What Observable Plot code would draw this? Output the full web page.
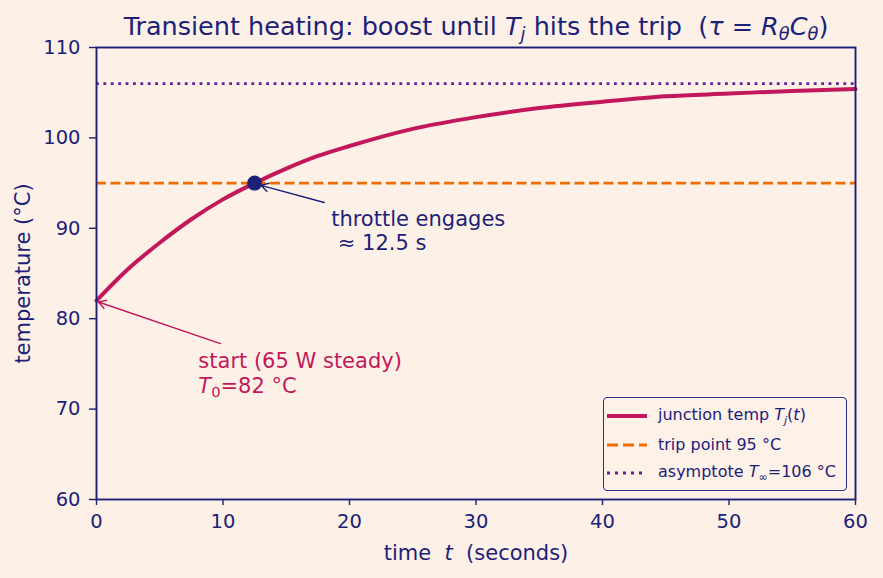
<!DOCTYPE html>
<html><head><meta charset="utf-8">
<script src="https://cdn.jsdelivr.net/npm/d3@7"></script>
<script src="https://cdn.jsdelivr.net/npm/@observablehq/plot@0.6"></script>
<style>
html,body{margin:0;padding:0;background:#fdf1e7;}
#wrap{position:relative;width:883px;height:578px;font-family:"DejaVu Sans",sans-serif;}
svg text{white-space:pre;}
#legend{position:absolute;left:603px;top:397px;width:244px;height:94px;border:1.5px solid #2a2f85;border-radius:4px;background:rgba(253,241,231,0.85);box-sizing:border-box;color:#1c2178;font-size:16px;}
#legend .row{position:absolute;left:3px;height:22px;display:flex;align-items:center;white-space:nowrap;}
#legend svg{margin-right:11px;}
#legend sub{font-size:70%;}
</style></head>
<body><div id="wrap"><div id="legend"></div></div>
<script>
// data
const timeS = [0, 2.5, 5, 7.5, 10, 12.5, 15, 17.5, 20, 25, 30, 35, 40, 45, 50, 55, 60];
const tempC = [82, 85.5, 88.4, 91.0, 93.2, 95.0, 96.6, 98.0, 99.1, 101.0, 102.3, 103.3, 104.0, 104.6, 104.9, 105.2, 105.4];
const tripC = [95];
const asymC = [106];
const throttleT = [12.5];
const throttleTemp = [95];
const xTicks = [0, 10, 20, 30, 40, 50, 60];
const yTicks = [60, 70, 80, 90, 100, 110];
// annotation anchors (data units)
const annThrottle = {text: "throttle engages\n ≈ 12.5 s", tx: 18.55, ty: 92.2, ax1: 18.0, ay1: 92.85, ax2: 13.0, ay2: 94.75};
const annStart = {text: "start (65 W steady)\n*T*_{0}=82 °C", tx: 8.05, ty: 76.4, ax1: 9.8, ay1: 77.25, ax2: 0.15, ay2: 81.85};
const titleText = "Transient heating: boost until *T*_{*j*} hits the trip  (*τ* = *R*_{*θ*}*C*_{*θ*})";
const xLabel = "time  *t*  (seconds)";
const yLabel = "temperature (°C)";

const navy = "#1c2178", crimson = "#c2185b", orange = "#ef6c00", purple = "#6a1b9a", bg = "#fdf1e7";
const curve = timeS.map((t, i) => ({t, T: tempC[i]}));

const chart = Plot.plot({
  width: 883, height: 578,
  marginTop: 47, marginLeft: 96, marginRight: 28, marginBottom: 79,
  style: {background: bg, color: navy, fontFamily: "DejaVu Sans, sans-serif", fontSize: "19.5px"},
  x: {domain: [0, 60]},
  y: {domain: [60, 110]},
  marks: [
    Plot.ruleY(asymC, {stroke: purple, strokeWidth: 2.8, strokeDasharray: "2.8,4.6"}),
    Plot.ruleY(tripC, {stroke: orange, strokeWidth: 2.8, strokeDasharray: "10,4.5"}),
    Plot.line(curve, {x: "t", y: "T", stroke: crimson, strokeWidth: 4, curve: "monotone-x"}),
    Plot.dot(throttleT.map((t, i) => ({t, T: throttleTemp[i]})), {x: "t", y: "T", r: 7.5, fill: navy}),
    Plot.arrow([annThrottle], {x1: "ax1", y1: "ay1", x2: "ax2", y2: "ay2", stroke: navy, strokeWidth: 1.4, headLength: 9}),
    Plot.arrow([annStart], {x1: "ax1", y1: "ay1", x2: "ax2", y2: "ay2", stroke: crimson, strokeWidth: 1.4, headLength: 9}),
    Plot.text([annThrottle], {x: "tx", y: "ty", text: "text", textAnchor: "start", lineAnchor: "top", fill: navy, fontSize: 21, lineHeight: 1.15}),
    Plot.text([annStart], {x: "tx", y: "ty", text: "text", textAnchor: "start", lineAnchor: "top", fill: crimson, fontSize: 21, lineHeight: 1.15}),
    Plot.axisX({ticks: xTicks, tickSize: 6, tickPadding: 9, label: null, strokeWidth: 1.4, fontSize: 19.5}),
    Plot.axisY({ticks: yTicks, tickSize: 7, tickPadding: 9, label: null, strokeWidth: 1.4, fontSize: 19.5}),
    Plot.frame({stroke: navy, strokeWidth: 1.9}),
    Plot.text([titleText], {frameAnchor: "top", lineAnchor: "middle", dy: -21, fontSize: 25.5, fill: navy}),
    Plot.text([xLabel], {frameAnchor: "bottom", lineAnchor: "middle", dy: 54, fontSize: 21, fill: navy}),
    Plot.text([yLabel], {frameAnchor: "left", textAnchor: "middle", lineAnchor: "middle", dx: -73, rotate: -90, fontSize: 21, fill: navy})
  ]
});
document.getElementById("wrap").prepend(chart);

// rich text: *italic*, _{subscript}
function richify(node) {
  const s = node.textContent;
  if (!/[*]|_\{/.test(s)) return;
  const fs = parseFloat(getComputedStyle(node).fontSize) || 19;
  while (node.firstChild) node.removeChild(node.firstChild);
  let italic = false, sub = false, buf = "", shifted = false;
  const flush = () => {
    if (!buf) return;
    const ts = document.createElementNS("http://www.w3.org/2000/svg", "tspan");
    ts.textContent = buf;
    if (italic) ts.setAttribute("font-style", "italic");
    if (sub) {
      ts.setAttribute("font-size", (fs * 0.7).toFixed(1));
      if (!shifted) { ts.setAttribute("dy", (fs * 0.22).toFixed(1)); shifted = true; }
    } else if (shifted) {
      ts.setAttribute("dy", (-fs * 0.22).toFixed(1)); shifted = false;
    }
    node.appendChild(ts);
    buf = "";
  };
  for (let i = 0; i < s.length; i++) {
    const c = s[i];
    if (c === "*") { flush(); italic = !italic; }
    else if (c === "_" && s[i + 1] === "{") { flush(); sub = true; i++; }
    else if (c === "}" && sub) { flush(); sub = false; }
    else buf += c;
  }
  flush();
}
chart.querySelectorAll("text, tspan").forEach(el => {
  if (el.children.length === 0) richify(el);
});

// legend (HTML overlay)
const legendItems = [
  {label: "junction temp <i>T<sub>j</sub></i>(<i>t</i>)", stroke: crimson, dash: null, w: 4},
  {label: "trip point 95 °C", stroke: orange, dash: "11,5", w: 3},
  {label: "asymptote <i>T</i><sub>∞</sub>=106 °C", stroke: purple, dash: "3,5", w: 3}
];
const leg = document.getElementById("legend");
legendItems.forEach((d, i) => {
  const row = document.createElement("div");
  row.className = "row";
  row.style.top = (7 + i * 28.5) + "px";
  row.innerHTML = `<svg width="40" height="10"><line x1="0" x2="40" y1="5" y2="5" stroke="${d.stroke}" stroke-width="${d.w}" ${d.dash ? `stroke-dasharray="${d.dash}"` : ""}/></svg><span>${d.label}</span>`;
  leg.appendChild(row);
});
</script></body></html>
